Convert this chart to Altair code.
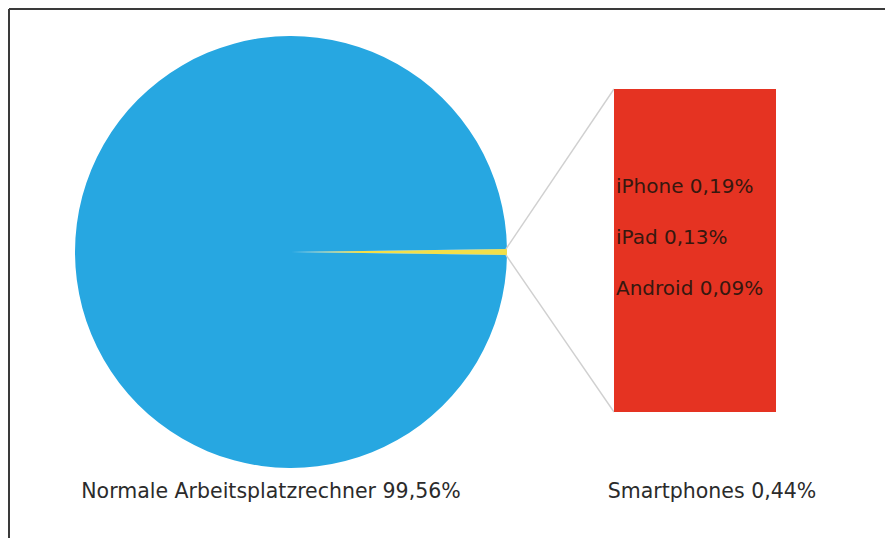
import altair as alt
import pandas as pd
import math

# Data
main_names = ["Smartphones", "Normale Arbeitsplatzrechner"]
main_values = [0.44, 99.56]
main_colors = ["#f2df4a", "#27a7e1"]

device_names = ["iPhone", "iPad", "Android"]
device_values = [0.19, 0.13, 0.09]

def fmt(v):
    return f"{v:.2f}".replace(".", ",") + "%"

pie_df = pd.DataFrame({
    "name": main_names,
    "value": main_values,
    "order": [0, 1],
})
label_df = pd.DataFrame({
    "name": main_names,
    "label": [f"{n} {fmt(v)}" for n, v in zip(main_names, main_values)],
})
dev_df = pd.DataFrame({
    "name": device_names,
    "label": [f"{n} {fmt(v)}" for n, v in zip(device_names, device_values)],
})

W, H = 877, 530
cx, cy, R = 283, 244, 216
small = main_values[0] / sum(main_values) * 2 * math.pi
start = math.pi / 2 - small / 2

pie = alt.Chart(pie_df).mark_arc(radius=R, stroke=None).encode(
    theta=alt.Theta("value:Q", stack=True, scale=alt.Scale(range=[start, start + 2 * math.pi])),
    order=alt.Order("order:Q"),
    color=alt.Color("name:N", scale=alt.Scale(domain=main_names, range=main_colors), legend=None),
    x=alt.value(cx),
    y=alt.value(cy),
)

edge_x = cx + R * math.cos(small / 2) - 1
rx0, rx1, ry0, ry1 = 606, 768, 81, 404

one = pd.DataFrame({"a": [0]})
conn1 = alt.Chart(one).mark_rule(color="#d0d0d0", strokeWidth=1.4).encode(
    x=alt.value(edge_x), y=alt.value(cy - 3), x2=alt.value(rx0), y2=alt.value(ry0))
conn2 = alt.Chart(one).mark_rule(color="#d0d0d0", strokeWidth=1.4).encode(
    x=alt.value(edge_x), y=alt.value(cy + 3), x2=alt.value(rx0), y2=alt.value(ry1))

rect = alt.Chart(one).mark_rect(color="#e53322").encode(
    x=alt.value(rx0), x2=alt.value(rx1), y=alt.value(ry0), y2=alt.value(ry1))

dev_text = alt.Chart(dev_df).mark_text(
    align="left", baseline="middle", font="DejaVu Sans", fontSize=20, color="#36180f"
).encode(
    x=alt.value(608),
    y=alt.Y("name:N", scale=alt.Scale(type="point", padding=0, domain=device_names, range=[179, 281]), axis=None),
    text="label:N",
)

bottom_text = alt.Chart(label_df).mark_text(
    align="center", baseline="middle", font="DejaVu Sans", fontSize=20.5, color="#2b2b2b"
).encode(
    x=alt.X("name:N", scale=alt.Scale(type="point", padding=0,
                                      domain=["Normale Arbeitsplatzrechner", "Smartphones"],
                                      range=[263, 704]), axis=None),
    y=alt.value(484),
    text="label:N",
)

border_top = alt.Chart(one).mark_rule(color="#3a3a3a", strokeWidth=2).encode(
    x=alt.value(1), x2=alt.value(W + 10), y=alt.value(1), y2=alt.value(1))
border_left = alt.Chart(one).mark_rule(color="#3a3a3a", strokeWidth=2).encode(
    x=alt.value(1), x2=alt.value(1), y=alt.value(1), y2=alt.value(H + 20))

chart = alt.layer(
    pie, conn1, conn2, rect, dev_text, bottom_text, border_top, border_left
).resolve_scale(x="independent", y="independent").properties(
    width=W, height=H, padding=0,
    autosize=alt.AutoSizeParams(type="fit", contains="padding"),
).configure_view(stroke=None)

chart.save("out.html", embed_options={"renderer": "svg", "actions": False})
